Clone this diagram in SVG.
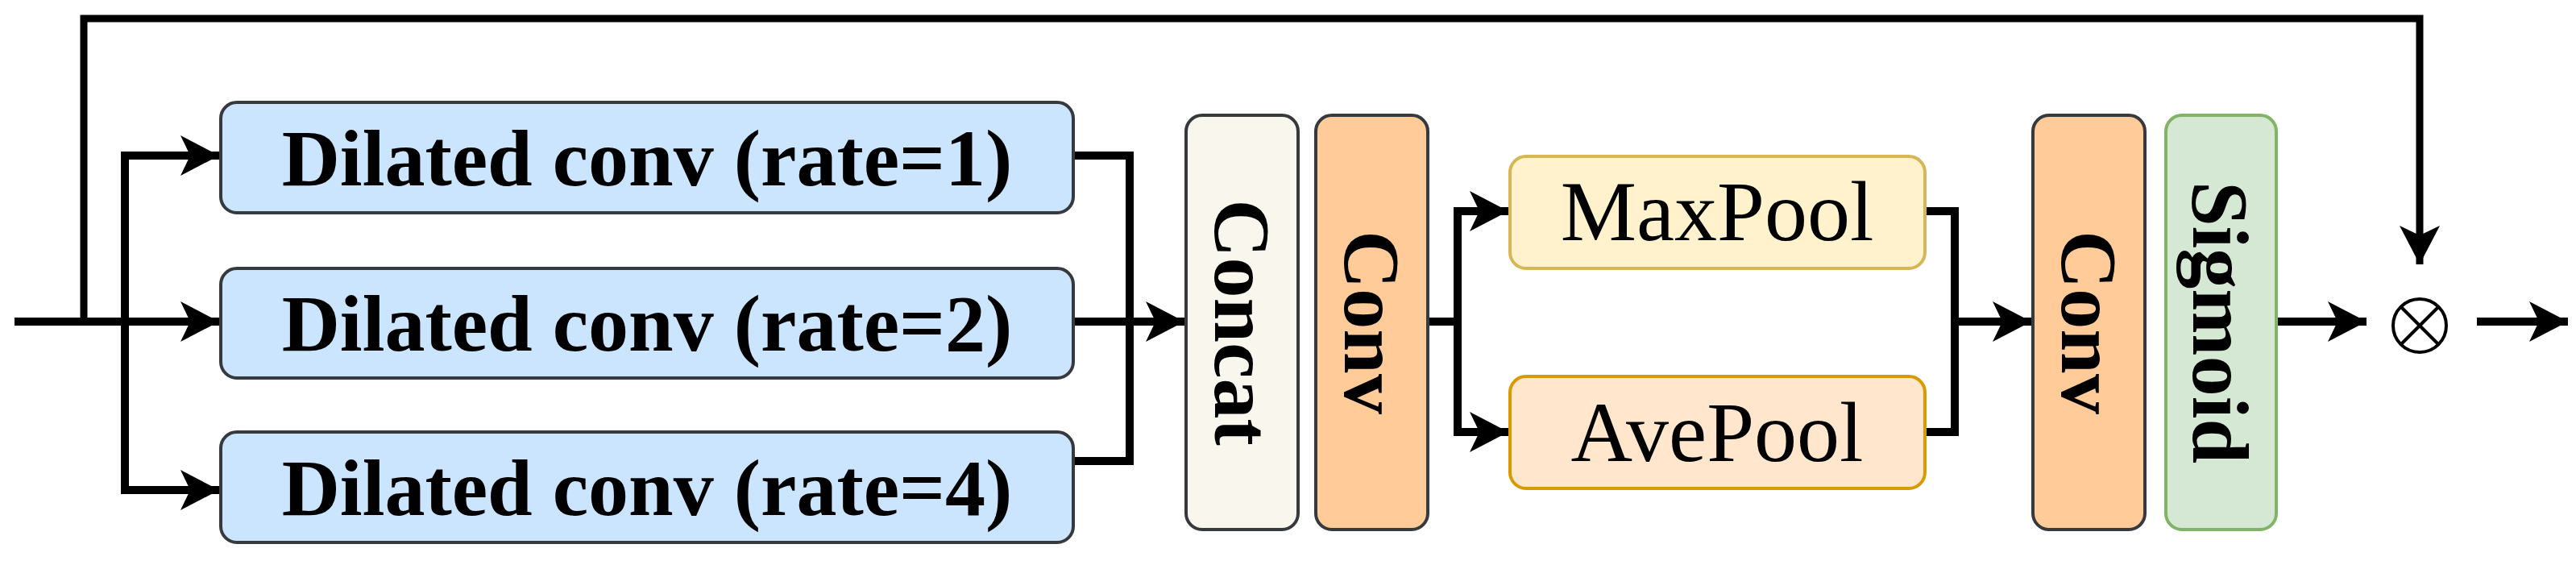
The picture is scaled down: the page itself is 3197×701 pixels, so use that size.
<svg xmlns="http://www.w3.org/2000/svg" width="3197" height="701" viewBox="0 0 3197 701">
<style>
.b{stroke-width:4}
.t{font-family:"Liberation Serif",serif;font-weight:bold;font-size:100px;fill:#000}
.tn{font-family:"Liberation Serif",serif;font-size:106px;fill:#000}
.c{fill:none;stroke:#000;stroke-width:10}
</style>
<defs>
<marker id="a" markerUnits="userSpaceOnUse" markerWidth="60" markerHeight="60" refX="48" refY="25" orient="auto">
<path d="M0,0 L48,25 L0,50 L12,25 Z" fill="#000"/>
</marker>
</defs>
<rect width="3197" height="701" fill="#fff"/>
<g id="connectors">
<polyline class="c" points="104,399 104,23 3003,23 3003,328" style="stroke-width:9" marker-end="url(#a)"/>
<line class="c" x1="18" y1="399" x2="272" y2="399" marker-end="url(#a)"/>
<polyline class="c" points="155,399 155,193 272,193" marker-end="url(#a)"/>
<polyline class="c" points="155,399 155,608 272,608" marker-end="url(#a)"/>
<polyline class="c" points="1334,193 1402,193 1402,572 1334,572"/>
<line class="c" x1="1334" y1="399" x2="1470" y2="399" marker-end="url(#a)"/>
<line class="c" x1="1772" y1="399" x2="1809" y2="399"/>
<polyline class="c" points="1809,399 1809,262 1872,262" marker-end="url(#a)"/>
<polyline class="c" points="1809,399 1809,536 1872,536" marker-end="url(#a)"/>
<polyline class="c" points="2389,262 2426,262 2426,536 2389,536"/>
<line class="c" x1="2426" y1="399" x2="2521" y2="399" marker-end="url(#a)"/>
<line class="c" x1="2825" y1="399" x2="2937" y2="399" marker-end="url(#a)"/>
<line class="c" x1="3074" y1="399" x2="3187" y2="399" marker-end="url(#a)"/>
</g>
<g id="d1"><rect class="b" x="274" y="127" width="1058" height="137" rx="20" fill="#cce5ff" stroke="#36393d"/><text class="t" x="803" y="230" text-anchor="middle">Dilated conv (rate=1)</text></g>
<g id="d2"><rect class="b" x="274" y="333" width="1058" height="136" rx="20" fill="#cce5ff" stroke="#36393d"/><text class="t" x="803" y="435" text-anchor="middle">Dilated conv (rate=2)</text></g>
<g id="d4"><rect class="b" x="274" y="536" width="1058" height="137" rx="20" fill="#cce5ff" stroke="#36393d"/><text class="t" x="803" y="639" text-anchor="middle">Dilated conv (rate=4)</text></g>
<g id="concat"><rect class="b" x="1472" y="143" width="139" height="514" rx="20" fill="#f9f7ed" stroke="#36393d"/><text class="t" transform="translate(1508,400) rotate(90)" text-anchor="middle">Concat</text></g>
<g id="conv1"><rect class="b" x="1633" y="143" width="139" height="514" rx="20" fill="#ffcc99" stroke="#36393d"/><text class="t" transform="translate(1669,400) rotate(90)" text-anchor="middle">Conv</text></g>
<g id="maxpool"><rect class="b" x="1874" y="194" width="515" height="139" rx="20" fill="#fff2cc" stroke="#d6b656"/><text class="tn" x="2131" y="298" text-anchor="middle">MaxPool</text></g>
<g id="avepool"><rect class="b" x="1874" y="467" width="515" height="139" rx="20" fill="#ffe6cc" stroke="#d79b00"/><text class="tn" x="2131" y="572" text-anchor="middle">AvePool</text></g>
<g id="conv2"><rect class="b" x="2523" y="143" width="139" height="514" rx="20" fill="#ffcc99" stroke="#36393d"/><text class="t" transform="translate(2559,400) rotate(90)" text-anchor="middle">Conv</text></g>
<g id="sigmoid"><rect class="b" x="2688" y="143" width="137" height="514" rx="20" fill="#d5e8d4" stroke="#82b366"/><text class="t" transform="translate(2722,400) rotate(90)" text-anchor="middle">Sigmoid</text></g>
<g id="mul"><circle cx="3003" cy="404" r="33" fill="none" stroke="#000" stroke-width="4"/><line x1="2980" y1="381" x2="3026" y2="427" stroke="#000" stroke-width="4"/><line x1="3026" y1="381" x2="2980" y2="427" stroke="#000" stroke-width="4"/></g>
</svg>
